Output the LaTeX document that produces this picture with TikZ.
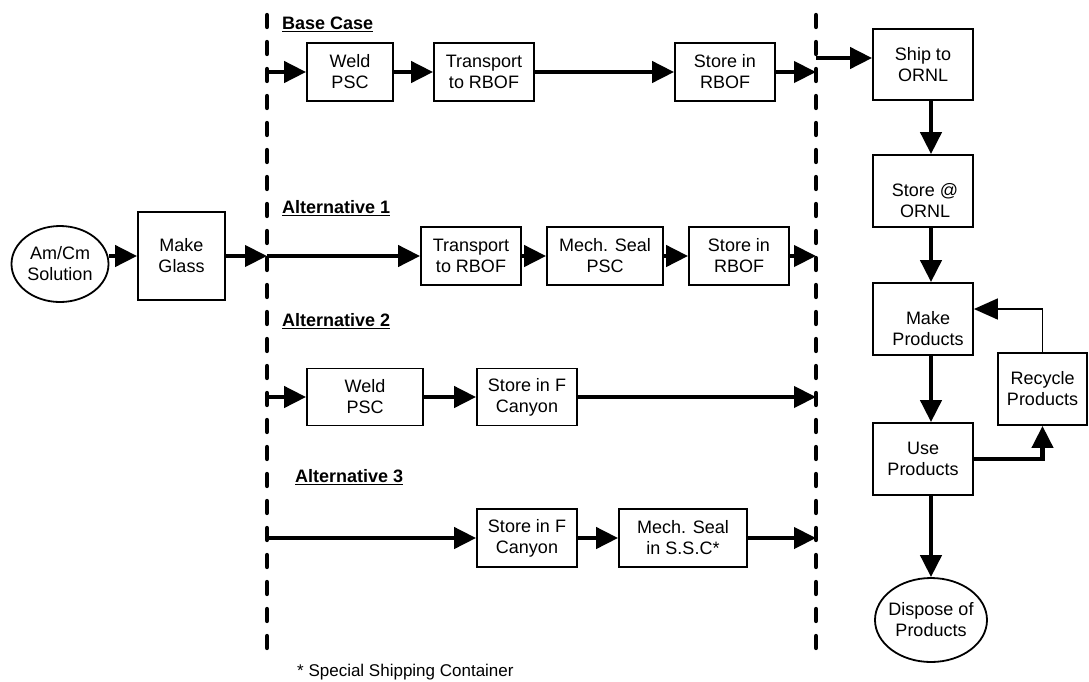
\documentclass[tikz,border=0pt]{standalone}
\usepackage{fontspec}
\setmainfont{Liberation Sans}
\usetikzlibrary{arrows.meta,shapes.geometric}
\newcommand{\myul}[1]{\setbox0\hbox{#1}\rlap{\rule[-3pt]{\wd0}{1.5pt}}\box0}
\begin{document}
\begin{tikzpicture}[x=1pt,y=-1pt,
  every node/.style={font=\fontsize{18}{21}\selectfont},
  box/.style={draw, line width=1.8pt, inner sep=0pt, align=center},
  oval/.style={draw, ellipse, line width=1.8pt, inner sep=0pt, align=center},
  txt/.style={inner sep=0pt, align=center},
  flow/.style={line width=4.2pt, -{Triangle[length=22pt,width=21pt]}},
  thinflow/.style={line width=1.6pt, -{Triangle[length=24pt,width=21pt]}},
  divider/.style={line width=4.3pt, line cap=round, dash pattern=on 12pt off 15pt},
  head/.style={font=\bfseries\fontsize{18}{21}\selectfont, anchor=base west, inner sep=0pt},
]
\useasboundingbox (0,0) rectangle (1089,681);

% dividers
\coordinate (Ltop) at (267,15);
\coordinate (Lbot) at (267,648);
\coordinate (Rtop) at (816,15);
\coordinate (Rbot) at (816,648);
\draw[divider] (Ltop) -- (Lbot);
\draw[divider] (Rtop) -- (Rbot);

\coordinate (LA) at (267,72);
\coordinate (LB) at (267,256);
\coordinate (LC) at (267,397);
\coordinate (LD) at (267,538);
\coordinate (RA) at (816,72);
\coordinate (RS) at (816,58);
\coordinate (RB) at (816,256);
\coordinate (RC) at (816,397);
\coordinate (RD) at (816,538);

% headings
\node[head] (hBase) at (282,29) {\myul{Base Case}};
\node[head] (hAlt1) at (282,213) {\myul{Alternative 1}};
\node[head] (hAlt2) at (282,326) {\myul{Alternative 2}};
\node[head] (hAlt3) at (295,482) {\myul{Alternative 3}};
\node[anchor=base west, inner sep=0pt, font=\fontsize{17}{20}\selectfont] (foot) at (297,676) {* Special Shipping Container};

% left part
\node[oval, minimum width=97pt, minimum height=76pt] (amcm) at (60,264) {Am/Cm\\Solution};
\node[box, minimum width=87pt, minimum height=88pt] (glass) at (181.5,256) {Make\\Glass};

% base case
\node[box, minimum width=86pt, minimum height=58pt] (weldA) at (350,72) {Weld\\PSC};
\node[box, minimum width=100pt, minimum height=58pt] (transA) at (484,72) {Transport\\to RBOF};
\node[box, minimum width=100pt, minimum height=58pt] (storeA) at (725,72) {Store in\\RBOF};

% alternative 1
\node[box, minimum width=100pt, minimum height=58pt] (transB) at (471,256) {Transport\\to RBOF};
\node[box, minimum width=116pt, minimum height=58pt] (mechB) at (605,256) {Mech. Seal\\PSC};
\node[box, minimum width=100pt, minimum height=58pt] (storeB) at (739,256) {Store in\\RBOF};

% alternative 2
\node[box, minimum width=116pt, minimum height=57pt] (weldC) at (365,397) {Weld\\PSC};
\node[box, minimum width=100pt, minimum height=57pt] (storeC) at (527,397) {Store in F\\Canyon};

% alternative 3
\node[box, minimum width=100pt, minimum height=58pt] (storeD) at (527,538) {Store in F\\Canyon};
\node[box, minimum width=128pt, minimum height=58pt] (mechD) at (683,538) {Mech. Seal\\in S.S.C*};

% right column
\node[box, minimum width=100pt, minimum height=71pt] (ship) at (923,64.5) {Ship to\\ORNL};
\node[box, minimum width=100pt, minimum height=72pt] (storeO) at (923,191) {};
\node[txt] (storeOt) at (925,201) {Store @\\ORNL};
\node[box, minimum width=100pt, minimum height=72pt] (make) at (923,319) {};
\node[txt] (maket) at (928,329) {Make\\Products};
\node[box, minimum width=100pt, minimum height=72pt] (use) at (923,459) {Use\\Products};
\node[box, minimum width=89pt, minimum height=72pt] (recycle) at (1042.5,389) {Recycle\\Products};
\node[oval, minimum width=112pt, minimum height=84pt] (dispose) at (931,620) {\makebox[70pt]{Dispose of}\\Products};

% connectors
\draw[flow] (amcm.east |- glass.west) -- (glass.west);
\draw[flow] (glass.east) -- (LB);

\draw[flow] (LA) -- (weldA.west);
\draw[flow] (weldA.east) -- (transA.west);
\draw[flow] (transA.east) -- (storeA.west);
\draw[flow] (storeA.east) -- (RA);

\draw[flow] (LB) -- (transB.west);
\draw[flow] (transB.east) -- (mechB.west);
\draw[flow] (mechB.east) -- (storeB.west);
\draw[flow] (storeB.east) -- (RB);

\draw[flow] (LC) -- (weldC.west);
\draw[flow] (weldC.east) -- (storeC.west);
\draw[flow] (storeC.east) -- (RC);

\draw[flow] (LD) -- (storeD.west);
\draw[flow] (storeD.east) -- (mechD.west);
\draw[flow] (mechD.east) -- (RD);

\draw[flow] (RS) -- (RS -| ship.west);
\draw[flow] ([xshift=8pt]ship.south) -- ([xshift=8pt]storeO.north);
\draw[flow] ([xshift=8pt]storeO.south) -- ([xshift=8pt]make.north);
\draw[flow] ([xshift=8pt]make.south) -- ([xshift=8pt]use.north);
\draw[flow] ([xshift=8pt]use.south) -- (dispose.north);
\draw[flow] (use.east) -| (recycle.south);
\draw[thinflow] (recycle.north) |- ([yshift=10pt]make.east);
\end{tikzpicture}
\end{document}
